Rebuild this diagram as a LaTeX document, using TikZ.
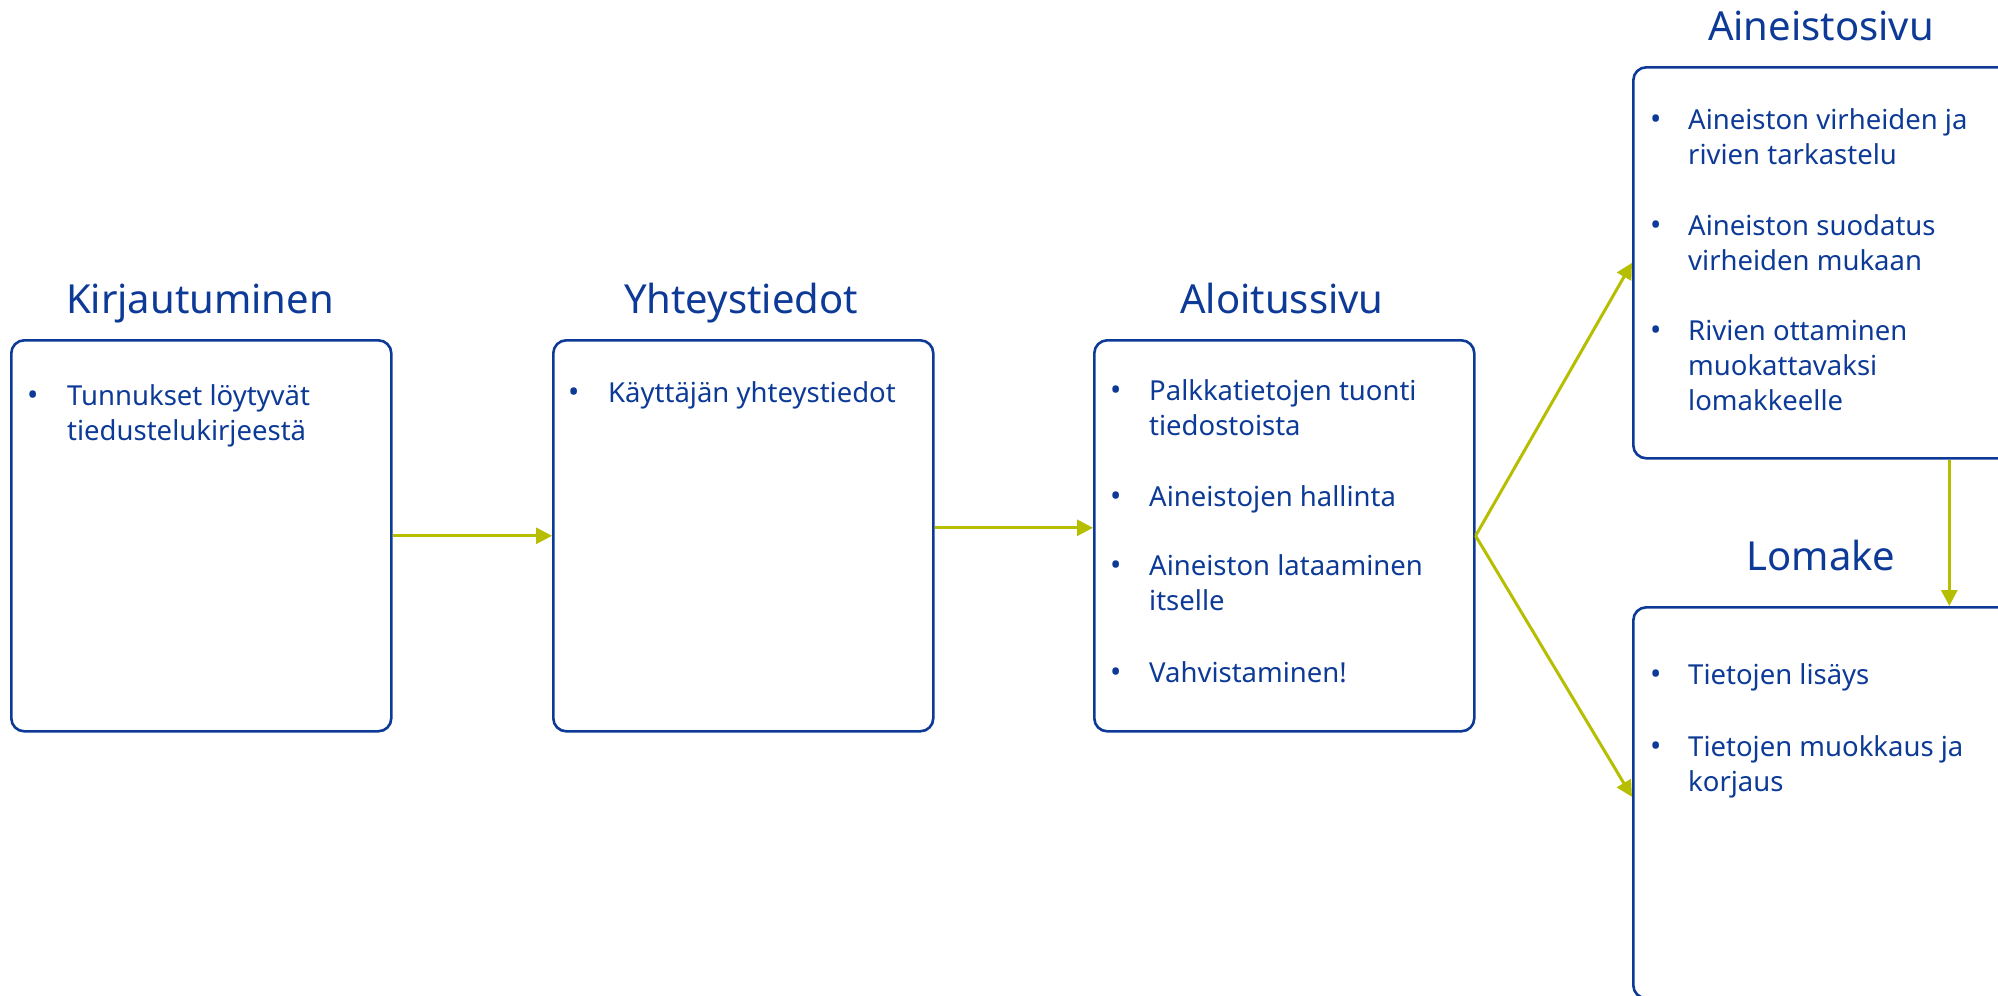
\documentclass[tikz,border=0pt]{standalone}
\usepackage{fontspec}
\setmainfont{Noto Sans}
\usetikzlibrary{arrows.meta}
\definecolor{dblue}{RGB}{12,58,150}
\definecolor{olive}{RGB}{181,190,0}
% name, bullet x, text x, first baseline y, last baseline y, text
\newcommand\bitem[6]{%
  \node[bul] (#1b) at (#2,#4) {•};
  \node[itm] (#1) at (#3,#5) {#6};}
\begin{document}
\begin{tikzpicture}[x=1pt,y=-1pt,
  box/.style={draw=dblue,line width=2.6pt,rounded corners=13pt,minimum width=380pt,minimum height=391pt,anchor=north west,inner sep=0pt},
  ttl/.style={text=dblue,font=\fontsize{40}{48}\selectfont,anchor=base,inner sep=0pt},
  bul/.style={text=dblue,font=\fontsize{30}{35}\selectfont,anchor=base west,inner sep=0pt},
  itm/.style={text=dblue,font=\fontsize{27.5}{35}\selectfont,anchor=base west,align=left,inner sep=0pt},
  arr/.style={draw=olive,line width=3pt,-{Triangle[length=16pt,width=16pt]}}]
\useasboundingbox (0,0) rectangle (1998,996);
\clip (0,0) rectangle (1998,996);
% boxes
\node[box] (kirj) at (10,339) {};
\node[box] (yht) at (552,339) {};
\node[box] (alo) at (1093,339) {};
\node[box] (ain) at (1632,66) {};
\node[box] (lom) at (1632,606) {};
% titles
\node[ttl] (tkirj) at (200,313) {Kirjautuminen};
\node[ttl] (tyht) at (741,313) {Yhteystiedot};
\node[ttl] (talo) at (1282,313) {Aloitussivu};
\node[ttl] (tain) at (1821,40) {Aineistosivu};
\node[ttl] (tlom) at (1821,570) {Lomake};
% items
\bitem{k1}{27}{67}{405}{440}{Tunnukset löytyvät\\tiedustelukirjeestä}
\bitem{y1}{568}{608}{402}{402}{Käyttäjän yhteystiedot}
\bitem{a1}{1110}{1149}{400}{435}{Palkkatietojen tuonti\\tiedostoista}
\bitem{a2}{1110}{1149}{506}{506}{Aineistojen hallinta}
\bitem{a3}{1110}{1149}{575}{610}{Aineiston lataaminen\\itselle}
\bitem{a4}{1110}{1149}{682}{682}{Vahvistaminen!}
\bitem{s1}{1650}{1688}{129}{164}{Aineiston virheiden ja\\rivien tarkastelu}
\bitem{s2}{1650}{1688}{235}{270}{Aineiston suodatus\\virheiden mukaan}
\bitem{s3}{1650}{1688}{340}{410}{Rivien ottaminen\\muokattavaksi\\lomakkeelle}
\bitem{l1}{1650}{1688}{684}{684}{Tietojen lisäys}
\bitem{l2}{1650}{1688}{756}{791}{Tietojen muokkaus ja\\korjaus}
% arrows
\draw[arr] (kirj.east) -- (yht.west);
\draw[arr] ([yshift=8pt]yht.east) -- ([yshift=8pt]alo.west);
\draw[arr] (alo.east) -- (ain.west);
\draw[arr] (alo.east) -- ([yshift=6pt]lom.west);
\draw[arr] ([xshift=126pt]ain.south) -- ([xshift=126pt]lom.north);
\end{tikzpicture}
\end{document}
